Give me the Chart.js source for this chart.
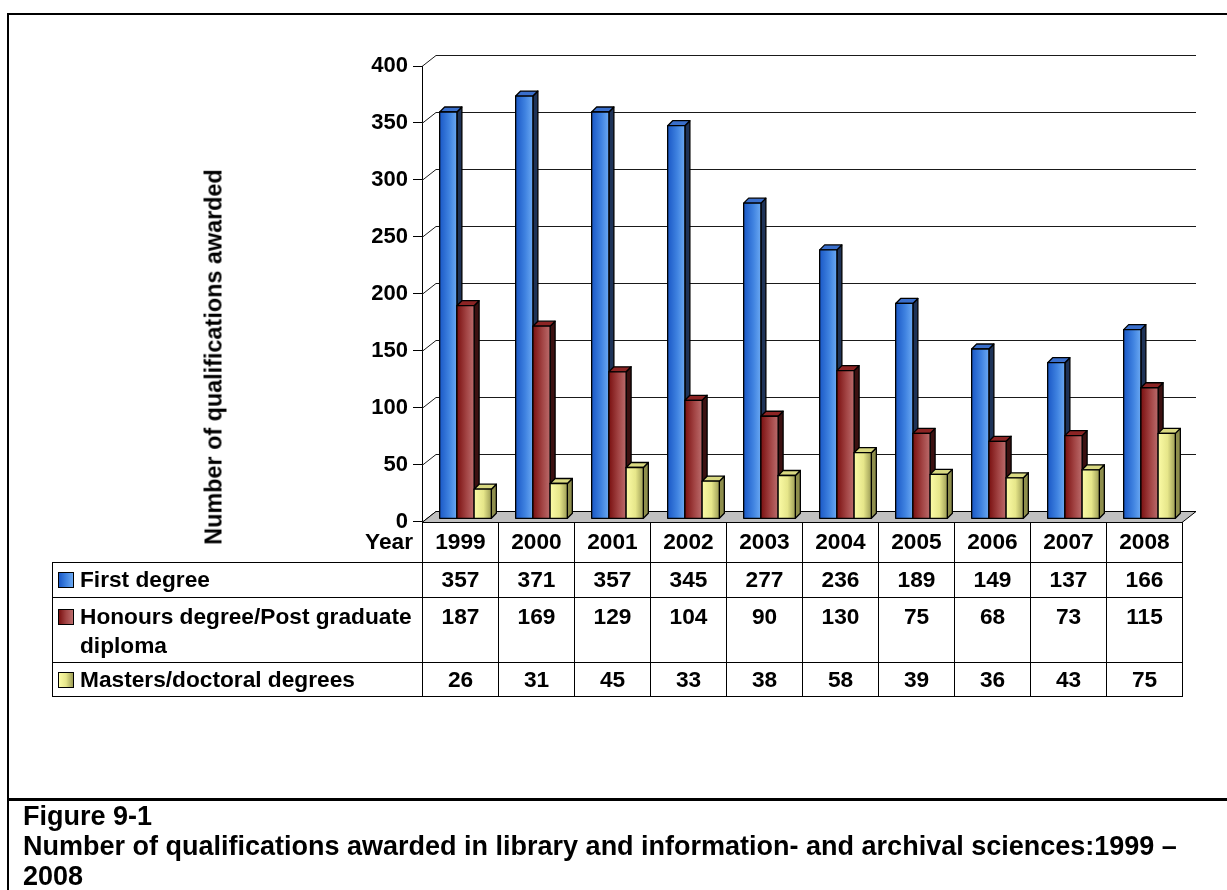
<!DOCTYPE html>
<html>
<head>
<meta charset="utf-8">
<script src="https://cdn.jsdelivr.net/npm/chart.js@4.4.0/dist/chart.umd.min.js"></script>
<style>
  body { margin: 0; background: #fff; font-family: "Liberation Sans", Arial, sans-serif; font-weight: bold; color: #000; }
  #wrap { position: relative; width: 1227px; height: 890px; overflow: hidden; }
  #frameTop { position: absolute; left: 7px; top: 13px; width: 1230px; height: 2px; background: #000; }
  #frameLeft { position: absolute; left: 7px; top: 13px; width: 2px; height: 900px; background: #000; }
  #frameSep { position: absolute; left: 7px; top: 798px; width: 1230px; height: 3px; background: #000; }
  #chart { position: absolute; left: 0; top: 0; }
  #yTitle { position: absolute; left: 214px; top: 357px; transform: translate(-50%, -50%) rotate(-90deg); white-space: nowrap; font-size: 23.4px; }
  #dataTable { position: absolute; left: 52px; top: 522px; border-collapse: collapse; table-layout: fixed; font-size: 22.7px; }
  #dataTable td { border: 1px solid #000; padding: 0; text-align: center; vertical-align: middle; line-height: 29px; }
  #dataTable tr.head td { border-top: none; }
  #dataTable tr.head td.yearLab { border: none; text-align: right; padding-right: 9px; }
  #dataTable tr.tall td { vertical-align: top; padding-top: 4px; }
  #dataTable td.lab { text-align: left; padding-left: 5px; }
  .labWrap { display: flex; align-items: flex-start; }
  .sw { flex: none; width: 14px; height: 14px; border: 1px solid #000; margin: 7px 6px 0 0; }
  .caption { position: absolute; left: 23px; top: 801px; width: 1195px; font-size: 27px; line-height: 30px; }
</style>
</head>
<body>
<div id="wrap">
  <canvas id="chart" width="1227" height="540"></canvas>
  <div id="frameTop"></div>
  <div id="frameLeft"></div>
  <div id="frameSep"></div>
  <div id="yTitle">Number of qualifications awarded</div>
  <table id="dataTable"></table>
  <div class="caption">Figure 9-1<br>Number of qualifications awarded in library and information- and archival sciences:1999 – 2008</div>
</div>
<script>
const years = ['1999', '2000', '2001', '2002', '2003', '2004', '2005', '2006', '2007', '2008'];
const seriesNames = ['First degree', 'Honours degree/Post graduate diploma', 'Masters/doctoral degrees'];
const firstDegree = [357, 371, 357, 345, 277, 236, 189, 149, 137, 166];
const honours = [187, 169, 129, 104, 90, 130, 75, 68, 73, 115];
const masters = [26, 31, 45, 33, 38, 58, 39, 36, 43, 75];
const yTicks = [0, 50, 100, 150, 200, 250, 300, 350, 400];

// front gradient stops, side face, top face
const faces = [
    { front: ['#1a58c6', '#3f82e0', '#6aa8f2'], side: '#1e3358', top: '#3a6fcc' },
    { front: ['#7a1010', '#a24444', '#bb6c6c'], side: '#3c1111', top: '#8c2424' },
    { front: ['#fbfba6', '#e6e68a', '#9c9c55'], side: '#8e8e4c', top: '#d9d982' }
];

const depthX = 14, depthY = 11;
const barDepth = 5, shiftX = 5.5, shiftY = -3;

function drawBar(ctx, el, face) {
    const x0 = el.x - el.width / 2 + shiftX;
    const x1 = x0 + el.width;
    const top = el.y + shiftY;
    const bot = el.base + shiftY;
    const d = barDepth;
    ctx.lineWidth = 1.3;
    ctx.strokeStyle = '#000';
    ctx.lineJoin = 'round';

    ctx.beginPath();
    ctx.moveTo(x1, top);
    ctx.lineTo(x1 + d, top - d);
    ctx.lineTo(x1 + d, bot - d);
    ctx.lineTo(x1, bot);
    ctx.closePath();
    ctx.fillStyle = face.side;
    ctx.fill();
    ctx.stroke();

    ctx.beginPath();
    ctx.moveTo(x0, top);
    ctx.lineTo(x0 + d, top - d);
    ctx.lineTo(x1 + d, top - d);
    ctx.lineTo(x1, top);
    ctx.closePath();
    ctx.fillStyle = face.top;
    ctx.fill();
    ctx.stroke();

    const g = ctx.createLinearGradient(x0, 0, x1, 0);
    g.addColorStop(0, face.front[0]);
    g.addColorStop(0.55, face.front[1]);
    g.addColorStop(1, face.front[2]);
    ctx.fillStyle = g;
    ctx.fillRect(x0, top, el.width, bot - top);
    ctx.strokeRect(x0, top, el.width, bot - top);
}

const bars3d = {
    id: 'bars3d',
    beforeDatasetsDraw(chart) {
        const ctx = chart.ctx;
        const y = chart.scales.y;
        const area = chart.chartArea;
        ctx.save();

        // back wall gridlines and wall diagonals
        ctx.strokeStyle = '#1a1a1a';
        ctx.lineWidth = 1;
        y.ticks.forEach(t => {
            const py = Math.round(y.getPixelForValue(t.value)) + 0.5;
            ctx.beginPath();
            ctx.moveTo(area.left, py);
            ctx.lineTo(area.left + depthX, py - depthY);
            if (t.value > 0) ctx.lineTo(area.right + depthX, py - depthY);
            ctx.stroke();
        });

        // floor
        const fy = Math.round(y.getPixelForValue(0)) + 0.5;
        ctx.beginPath();
        ctx.moveTo(area.left, fy);
        ctx.lineTo(area.right, fy);
        ctx.lineTo(area.right + depthX, fy - depthY);
        ctx.lineTo(area.left + depthX, fy - depthY);
        ctx.closePath();
        ctx.fillStyle = '#c0c0c0';
        ctx.fill();
        ctx.strokeStyle = '#000';
        ctx.stroke();

        const metas = chart.data.datasets.map((ds, i) => chart.getDatasetMeta(i));
        for (let j = 0; j < years.length; j++) {
            metas.forEach((m, i) => drawBar(ctx, m.data[j], faces[i]));
        }
        ctx.restore();
        return false;
    }
};

const font = { family: '"Liberation Sans", Arial, sans-serif', size: 22, weight: 'bold' };

const chart = new Chart(document.getElementById('chart'), {
    type: 'bar',
    data: {
        labels: years,
        datasets: [
            { label: seriesNames[0], data: firstDegree, backgroundColor: faces[0].front[1] },
            { label: seriesNames[1], data: honours, backgroundColor: faces[1].front[1] },
            { label: seriesNames[2], data: masters, backgroundColor: faces[2].front[1] }
        ]
    },
    options: {
        responsive: false,
        animation: false,
        devicePixelRatio: 1,
        layout: { padding: { left: 0, top: 66, right: 45, bottom: 18 } },
        datasets: { bar: { categoryPercentage: 0.68, barPercentage: 1.0 } },
        plugins: { legend: { display: false }, tooltip: { enabled: false } },
        scales: {
            x: { display: false, offset: true },
            y: {
                min: 0,
                max: 400,
                afterBuildTicks(s) { s.ticks = yTicks.map(v => ({ value: v })); },
                afterFit(s) { s.width = 422; },
                ticks: { color: '#000', font: font, padding: 5 },
                grid: { drawOnChartArea: false, drawTicks: true, tickLength: 9, color: '#000', lineWidth: 1 },
                border: { display: true, color: '#000', width: 1 }
            }
        }
    },
    plugins: [bars3d]
});

// data table under the plot, columns taken from the chart area
const area = chart.chartArea;
const colW = (area.right - area.left) / years.length;
const table = document.getElementById('dataTable');
let html = '<colgroup><col style="width:' + (area.left - 52) + 'px">';
years.forEach(() => { html += '<col style="width:' + colW + 'px">'; });
html += '</colgroup>';
html += '<tr class="head" style="height:40px"><td class="yearLab">Year</td>';
years.forEach(yr => { html += '<td>' + yr + '</td>'; });
html += '</tr>';
const rows = [firstDegree, honours, masters];
const rowH = [35, 65, 34];
rows.forEach((vals, i) => {
    const f = faces[i].front;
    html += '<tr' + (i === 1 ? ' class="tall"' : '') + ' style="height:' + rowH[i] + 'px">';
    html += '<td class="lab"><div class="labWrap"><span class="sw" style="background:linear-gradient(to right,' +
        f[0] + ',' + f[1] + ',' + f[2] + ')"></span><span>' + seriesNames[i] + '</span></div></td>';
    vals.forEach(v => { html += '<td>' + v + '</td>'; });
    html += '</tr>';
});
table.innerHTML = html;
</script>
</body>
</html>
